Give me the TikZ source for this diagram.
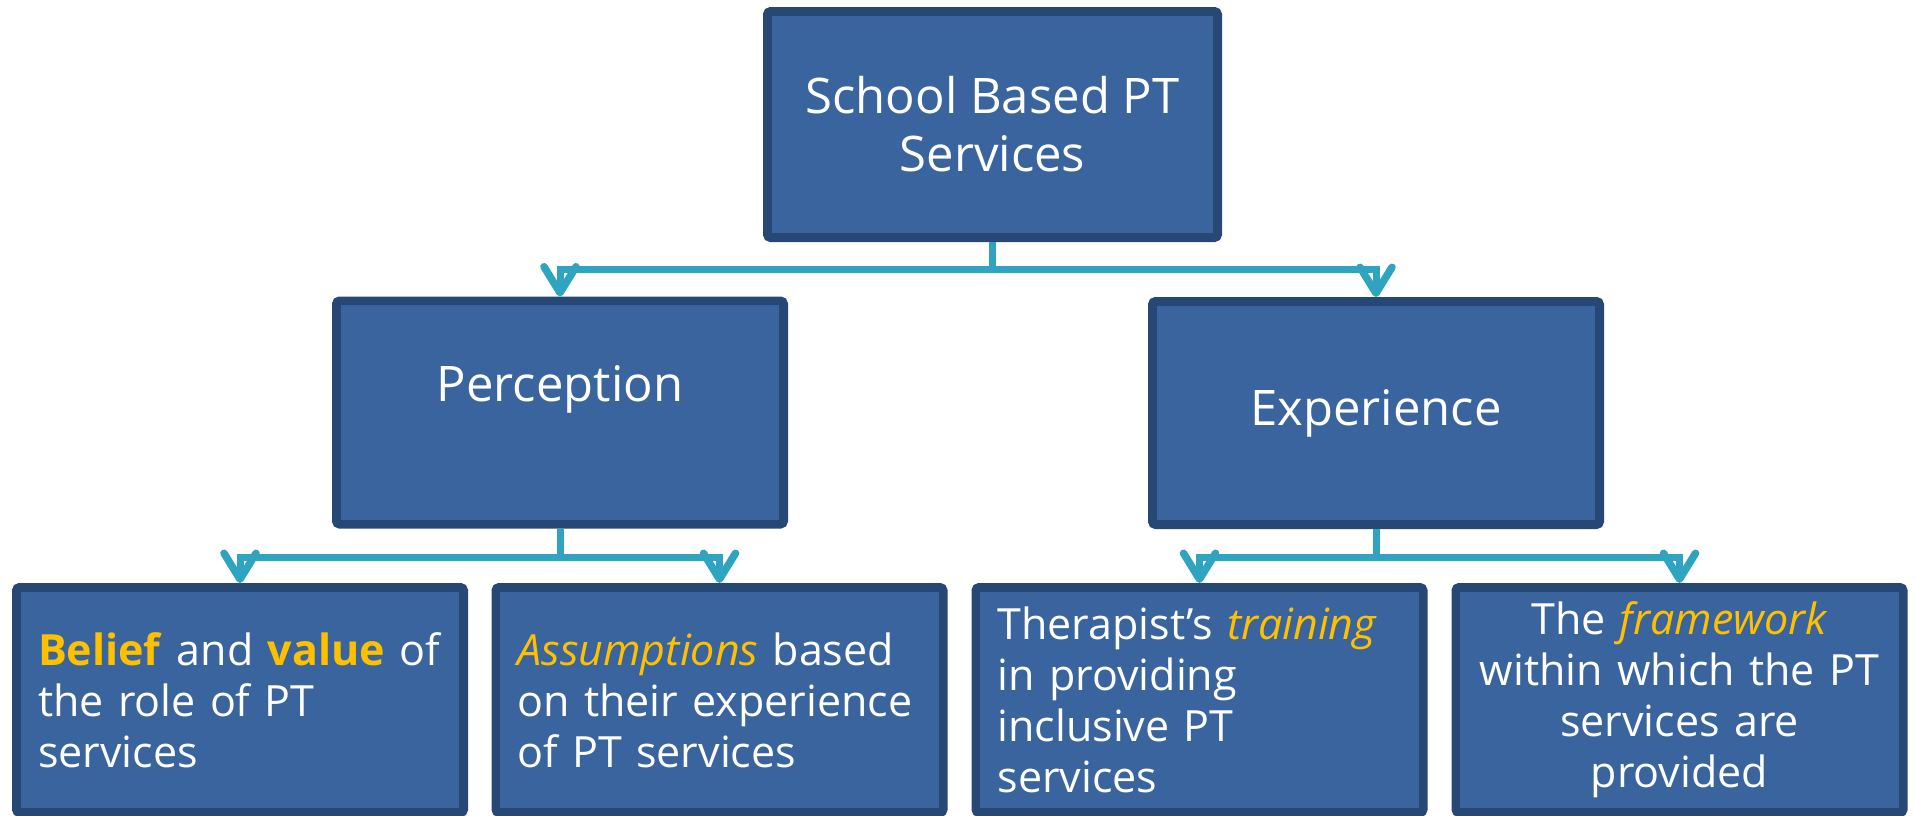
\documentclass[tikz,border=0pt]{standalone}
\usepackage{fontspec}
\setmainfont{Open Sans}
\usetikzlibrary{arrows.meta}

\definecolor{boxfill}{RGB}{58,100,158}
\definecolor{boxline}{RGB}{39,71,117}
\definecolor{linkcol}{RGB}{46,164,193}
\definecolor{hilite}{RGB}{255,192,0}

\newcommand{\hl}[1]{\textcolor{hilite}{#1}}

\begin{document}
\begin{tikzpicture}[x=1pt,y=-1pt,
  box/.style={draw=boxline, fill=boxfill, line width=7pt, rounded corners=4pt,
    minimum width=449pt, minimum height=225pt, text=white, inner sep=0pt},
  big/.style={font=\fontsize{49}{58}\selectfont, align=center},
  small/.style={font=\fontsize{43}{51}\selectfont, text width=404pt, align=left,
    minimum height=227pt},
  rim/.style={draw=boxline, line width=2.5pt},
  link/.style={draw=linkcol, line width=7pt},
  arr/.style={link, -{Straight Barb[length=26pt,width=32pt,line width=7.5pt,round]}}]

\useasboundingbox (0,0) rectangle (1915,815);
\clip (0,0) rectangle (1915,815);

% top level
\node[box, big, minimum width=452pt, minimum height=228pt] (top) at (992.5,124.5)
  {School Based PT\\Services};

% second level
\node[box, big] (perc) at (560,412.5) {Perception\\~};
\node[box, big] (expe) at (1376,413) {Experience};

% third level
\node[box, small] (b1) at (240,700)
  {\hl{\textbf{Belief}} and \hl{\textbf{value}} of\\the role of PT\\services};
\node[box, small] (b2) at (719.5,700)
  {\hl{\textit{Assumptions}} based\\on their experience\\of PT services};
\node[box, small] (b3) at (1199.5,700)
  {Therapist’s \hl{\textit{training}}\\in providing\\inclusive PT\\services};
\node[box, small, align=center] (b4) at (1679.5,700)
  {The \hl{\textit{framework}}\\within which the PT\\services are\\provided};

% inner frame lines
\foreach \n in {top,perc,expe,b1,b2,b3,b4}
  \draw[rim] ([shift={(7.5pt,-7.5pt)}]\n.north west) rectangle ([shift={(-7.5pt,7.5pt)}]\n.south east);

% connectors
\coordinate (j0) at (992.5,269);
\coordinate (j1) at (560,557);
\coordinate (j2) at (1376,557);
\draw[arr] (top.south) -- (j0) -| (perc.north);
\draw[arr] (j0) -| (expe.north);
\draw[arr] (perc.south) -- (j1) -| (b1.north);
\draw[arr] (j1) -| (b2.north);
\draw[arr] (expe.south) -- (j2) -| (b3.north);
\draw[arr] (j2) -| (b4.north);

\end{tikzpicture}
\end{document}
